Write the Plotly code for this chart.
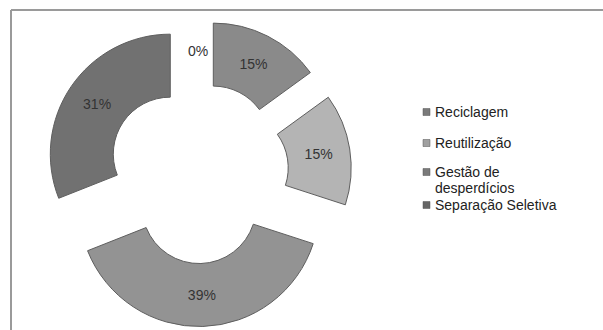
import plotly.graph_objects as go

# ---- data ----
categories = ["", "Reciclagem", "Reutilização", "Gestão de desperdícios", "Separação Seletiva"]
values = [0, 15, 15, 39, 31]
slice_colors = ["#ffffff", "#8a8a8a", "#b4b4b4", "#939393", "#717171"]
legend_lines = [["Reciclagem"], ["Reutilização"], ["Gestão de", "desperdícios"], ["Separação Seletiva"]]
legend_colors = ["#7a7a7a", "#a0a0a0", "#7a7a7a", "#666666"]

W, H = 603, 330
FONT = "Liberation Sans, Arial, sans-serif"

total = sum(values)
pie_labels = [c for c, v in zip(categories, values) if v > 0]
pie_values = [v for v in values if v > 0]
pie_colors = [col for col, v in zip(slice_colors, values) if v > 0]
pie_text = [f"{round(100 * v / total)}%" for v in pie_values]

fig = go.Figure()
fig.add_trace(go.Pie(
    labels=pie_labels,
    values=pie_values,
    text=pie_text,
    textinfo="text",
    textposition="inside",
    insidetextorientation="horizontal",
    sort=False,
    direction="clockwise",
    rotation=0,
    hole=0.475,
    pull=[0.28] * len(pie_values),
    marker=dict(colors=pie_colors, line=dict(color="#5e5e5e", width=1)),
    textfont=dict(family=FONT, size=14, color="#333333"),
    showlegend=False,
    domain=dict(x=[44.5 / W, 351.6 / W], y=[1 - 326.6 / H, 1 - 19.4 / H]),
))

annotations = []
shapes = []

# zero-value category label (not drawn by the pie)
for c, v in zip(categories, values):
    if v == 0:
        annotations.append(dict(
            x=198 / W, y=1 - 51 / H, xref="paper", yref="paper",
            text=f"{round(100 * v / total)}%", showarrow=False,
            font=dict(family=FONT, size=14, color="#333333"),
            xanchor="center", yanchor="middle"))

# legend
legend_y = [112, 143, 172, 205]
line_gap = 16
for lines, col, yy in zip(legend_lines, legend_colors, legend_y):
    for i, ln in enumerate(lines):
        annotations.append(dict(
            x=433 / W, y=1 - (yy + i * line_gap) / H, xref="paper", yref="paper",
            text=ln, showarrow=False, align="left",
            font=dict(family=FONT, size=14, color="#222222"),
            xanchor="left", yanchor="middle"))
    shapes.append(dict(type="rect", xref="paper", yref="paper",
                       x0=423 / W, x1=430 / W, y0=1 - (yy + 3.5) / H, y1=1 - (yy - 3.5) / H,
                       fillcolor=col, line=dict(color="#555555", width=0.5)))

# chart frame (top and left edges visible)
shapes.append(dict(type="line", xref="paper", yref="paper",
                   x0=11 / W, x1=1.01, y0=1 - 10 / H, y1=1 - 10 / H,
                   line=dict(color="#9a9a9a", width=2)))
shapes.append(dict(type="line", xref="paper", yref="paper",
                   x0=11 / W, x1=11 / W, y0=1 - 10 / H, y1=-0.01,
                   line=dict(color="#9a9a9a", width=2)))

fig.update_layout(
    width=W, height=H,
    margin=dict(l=0, r=0, t=0, b=0),
    paper_bgcolor="white",
    plot_bgcolor="white",
    annotations=annotations,
    shapes=shapes,
)

fig.write_html("out.html")
